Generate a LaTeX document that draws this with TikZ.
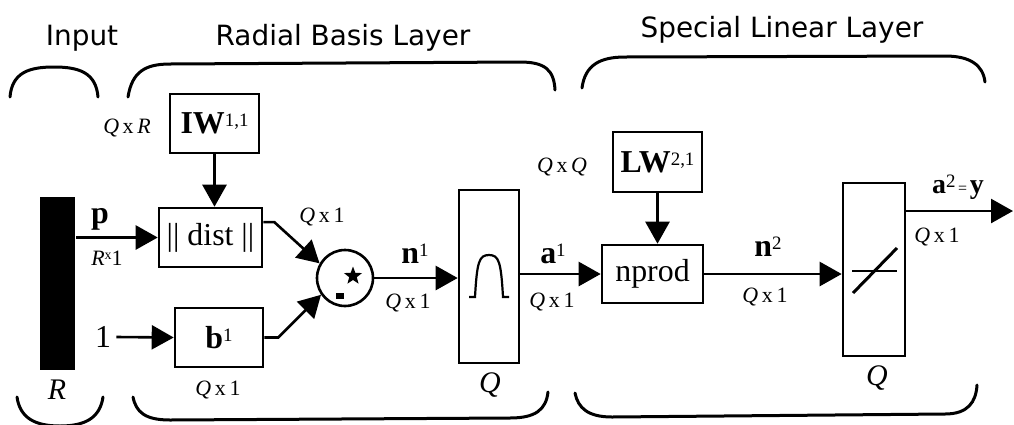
\documentclass[tikz,border=0pt]{standalone}
\usepackage{fontspec}
\setmainfont{Liberation Serif}
\newfontfamily\labfont{DejaVu Sans}
\usetikzlibrary{arrows.meta,calc,shapes.geometric}
\newcommand{\supx}[1]{\raisebox{0.22em}{\fontsize{19}{19}\selectfont #1}}
\newcommand{\dimQ}[1]{{\itshape Q}\,x\,#1}
\begin{document}
\begin{tikzpicture}[x=1bp,y=-1bp,line width=2.6bp,
  box/.style={draw,rectangle,inner sep=0pt,line width=2.6bp},
  conn/.style={-{Triangle[length=22bp,width=24bp]},line width=2.6bp},
  brace/.style={line width=3bp,line cap=round},
  ttl/.style={font=\labfont\fontsize{28}{32}\selectfont},
  big/.style={font=\fontsize{32}{34}\selectfont},
  dim/.style={font=\fontsize{22}{24}\selectfont,inner sep=0pt},
  bigq/.style={font=\fontsize{30}{32}\selectfont\itshape,inner sep=0pt}]
\useasboundingbox (0,0) rectangle (1014,424);

% titles
\node[ttl,anchor=base] (tin) at (82,45) {Input};
\node[ttl,anchor=base] (trb) at (343,45) {Radial Basis Layer};
\node[ttl,anchor=base] (tsl) at (782,37) {Special Linear Layer};

% braces
\draw[brace] (10,97) .. controls (12,72) and (30,67) .. (54,67) .. controls (78,67) and (96,72) .. (98,97);
\draw[brace] (128,97) .. controls (132,72) and (145,64) .. (170,64) -- (520,62) .. controls (545,62) and (554,70) .. (555,90);
\draw[brace] (582,88) .. controls (585,65) and (600,57) .. (625,57) -- (945,56) .. controls (970,56) and (983,65) .. (985,82);
\draw[brace] (17,397) .. controls (20,418) and (35,426) .. (60,426) .. controls (85,426) and (100,418) .. (103,397);
\draw[brace] (133,397) .. controls (136,412) and (145,420) .. (170,420) -- (510,418) .. controls (535,418) and (546,410) .. (548,392);
\draw[brace] (575,393) .. controls (578,408) and (588,417) .. (612,417) -- (945,414) .. controls (968,414) and (976,402) .. (977,385);

% nodes
\node[fill=black,draw=none,minimum width=35bp,minimum height=173bp,inner sep=0pt] (bar) at (57.5,283.5) {};
\node[box,minimum width=89bp,minimum height=59bp,big] (IW) at (214.5,123.5) {\textbf{IW}\supx{1,1}};
\node[box,minimum width=103bp,minimum height=59bp,big] (dist) at (210.5,237.5) {|| dist ||};
\node[box,minimum width=88bp,minimum height=59bp,big] (b) at (219,337.5) {\textbf{b}\supx{1}};
\node[big,inner sep=0pt] (one) at (103,337) {1};
\node[draw,circle,minimum size=56bp,inner sep=0pt] (circ) at (345,278) {};
\node[star,star points=5,star point ratio=2.4,fill=black,draw=none,minimum size=19bp,inner sep=0pt] (st) at (353,276) {};
\node[fill=black,draw=none,minimum width=8bp,minimum height=6bp,inner sep=0pt] (dot) at (340,296) {};
\node[box,minimum width=60bp,minimum height=173bp] (rb) at (489,276.5) {};
\node[box,minimum width=89bp,minimum height=60bp,big] (LW) at (657.5,162) {\textbf{LW}\supx{2,1}};
\node[box,minimum width=101bp,minimum height=58bp,big] (np) at (652.5,274) {nprod};
\node[box,minimum width=62bp,minimum height=173bp] (pl) at (874,269.5) {};
\coordinate (out) at (1013,211);

% transfer symbols
\draw[line width=2.2bp] (469,297) -- (475,297) .. controls (477,262) and (479,255) .. (489,255) .. controls (499,255) and (501,262) .. (503,297) -- (509,297);
\draw[line width=1.5bp] (852,271) -- (897,271);
\draw[line width=3bp] (853,293) -- (897,248);

% connectors
\draw[conn] (bar.east |- dist.west) -- (dist.west);
\draw[conn] (IW.south) -- (IW.south |- dist.north);
\draw[conn] (one.east) ++(4,0) -- (b.west);
\draw[conn] ($(dist.north east)!0.25!(dist.south east)$) -- ++(11,0) -- (circ.150);
\draw[conn] (b.east) -- ++(14,0) -- (circ.215);
\draw[conn] (circ.east) -- (rb.west |- circ.east);
\draw[conn] (rb.east |- np.west) -- (np.west);
\draw[conn] (LW.south) -- (LW.south |- np.north);
\draw[conn] (np.east) -- (pl.west |- np.east);
\draw[conn] (pl.east |- out) -- (out);

% labels
\node[dim] (lqr) at (127,128) {\dimQ{{\itshape R}}};
\node[big,anchor=base,inner sep=0pt] (lp) at (100,223) {\textbf{p}};
\node[dim] (lr1) at (107,258) {{\itshape R}\raisebox{0.25em}{\fontsize{14}{14}\selectfont x}1};
\node[dim] (lq1a) at (322,217) {\dimQ{1}};
\node[dim] (lq1b) at (218,390) {\dimQ{1}};
\node[big,inner sep=0pt] (ln1) at (415,254) {\textbf{n}\supx{1}};
\node[dim] (lq1c) at (408,303) {\dimQ{1}};
\node[bigq] (lqa) at (490,385) {Q};
\node[big,inner sep=0pt] (la1) at (553,254) {\textbf{a}\supx{1}};
\node[dim] (lq1d) at (552,302) {\dimQ{1}};
\node[dim] (lqq) at (562,167) {{\itshape Q}\,x\,{\itshape Q}};
\node[big,inner sep=0pt] (ln2) at (768,247) {\textbf{n}\supx{2}};
\node[dim] (lq1e) at (765,297) {\dimQ{1}};
\node[bigq] (lqb) at (877,378) {Q};
\node[font=\fontsize{28}{30}\selectfont,inner sep=0pt] (la2) at (958,187) {\textbf{a}\supx{2}{\fontsize{16}{16}\selectfont\,=\,}\textbf{y}};
\node[dim] (lq1f) at (937,237) {\dimQ{1}};
\node[bigq] (lR) at (57,390) {R};
\end{tikzpicture}
\end{document}
